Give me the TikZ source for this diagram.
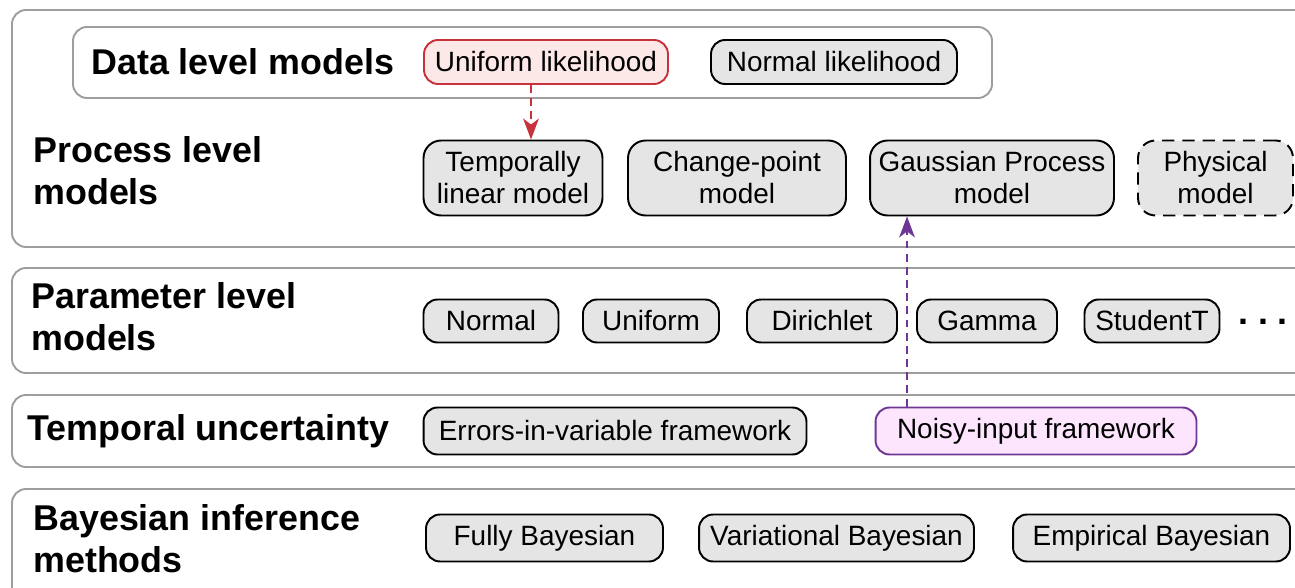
\documentclass[tikz,border=0pt]{standalone}
\usepackage{fontspec}
\setmainfont{Liberation Sans}
\usepackage{tikz}
\usetikzlibrary{arrows.meta, positioning}
\usepackage{color}

\definecolor{likered}{RGB}{200,50,60}
\definecolor{likefill}{RGB}{253,232,232}
\definecolor{noisyline}{RGB}{110,55,150}
\definecolor{noisyfill}{RGB}{253,230,253}

\newcommand{\itemfont}{\fontsize{15.9pt}{18.2pt}\selectfont}
\newcommand{\levelfont}{\fontsize{20.4pt}{23.8pt}\selectfont\bfseries}

\tikzset{
  layer/.style={draw=black!38, line width=1.1pt, rounded corners=8pt},
  levellabel/.style={anchor=west, align=left, inner sep=0pt, font=\levelfont},
  item/.style={shape=rectangle, draw=black, fill=black!10, line width=1.1pt,
    rounded corners=8pt, align=center, inner sep=0pt, font=\itemfont,
    minimum height=0.88cm},
  twoline/.style={item, minimum height=1.5cm, rounded corners=10pt},
  linkarrow/.style={-{Stealth[length=12pt, width=9pt, inset=3.5pt]},
    line width=0.9pt, dash pattern=on 4.5pt off 3pt}
}

\begin{document}
\begin{tikzpicture}[x=0.02cm, y=-0.02cm]
    \clip (0,0) rectangle (1295,588);

    % level frames
    \draw[layer] (12,10) rectangle (1330,247);
    \draw[layer] (73,27) rectangle (992,98);
    \draw[layer] (12,268) rectangle (1330,373);
    \draw[layer] (12,395) rectangle (1330,467);
    \draw[layer] (12,489) rectangle (1330,630);

    \node[levellabel] (datalbl) at (91,62) {Data level models};
    \node[levellabel] (proclbl) at (33,171) {Process level\\models};
    \node[levellabel] (paramlbl) at (31,317) {Parameter level\\models};
    \node[levellabel] (timelbl) at (27,431) {Temporal uncertainty};
    \node[levellabel] (bayeslbl) at (33,539) {Bayesian inference\\methods};

    % data level
    \node[item, draw=likered, fill=likefill, minimum width=4.88cm] (unilik) at (546,62) {Uniform likelihood};
    \node[item, minimum width=4.92cm] (normlik) at (834,62) {Normal likelihood};

    % process level
    \node[twoline, minimum width=3.58cm] (tlm) at (513,178) {Temporally\\linear model};
    \node[twoline, minimum width=4.36cm] (cpm) at (737,178) {Change-point\\model};
    \node[twoline, minimum width=4.88cm] (gpm) at (992,178) {Gaussian Process\\model};
    \node[twoline, dash pattern=on 7pt off 4.5pt, minimum width=3.1cm] (phys) at (1215.5,178) {Physical\\model};

    % parameter level
    \node[item, minimum width=2.7cm, minimum height=0.86cm] (pnormal) at (491,321) {Normal};
    \node[item, minimum width=2.72cm, minimum height=0.86cm] (puniform) at (651,321) {Uniform};
    \node[item, minimum width=3.0cm, minimum height=0.86cm] (pdirichlet) at (822,321) {Dirichlet};
    \node[item, minimum width=2.8cm, minimum height=0.86cm] (pgamma) at (987,321) {Gamma};
    \node[item, minimum width=2.7cm, minimum height=0.86cm] (pstudent) at (1152,321) {StudentT};
    \node[inner sep=0pt, font=\levelfont] (pdots) at (1263,322) {.\hspace{5.5pt}.\hspace{5.5pt}.};

    % temporal uncertainty
    \node[item, minimum width=7.66cm, minimum height=0.94cm] (eiv) at (615,431) {Errors-in-variable framework};
    \node[item, draw=noisyline, fill=noisyfill, minimum width=6.42cm, minimum height=0.94cm] (noisy) at (1036,431) {Noisy-input framework};

    % inference
    \node[item, minimum width=4.74cm, minimum height=0.94cm] (fully) at (544.5,538) {Fully Bayesian};
    \node[item, minimum width=5.5cm, minimum height=0.94cm] (vari) at (836.5,538) {Variational Bayesian};
    \node[item, minimum width=5.54cm, minimum height=0.94cm] (emp) at (1151.5,538) {Empirical Bayesian};

    \draw[linkarrow, likered] ([xshift=-0.3cm]unilik.south) -- ([xshift=-0.3cm]unilik.south |- tlm.north);
    \draw[linkarrow, noisyline] ([xshift=-2.58cm]noisy.north) -- ([xshift=-2.58cm]noisy.north |- gpm.south);
\end{tikzpicture}
\end{document}
